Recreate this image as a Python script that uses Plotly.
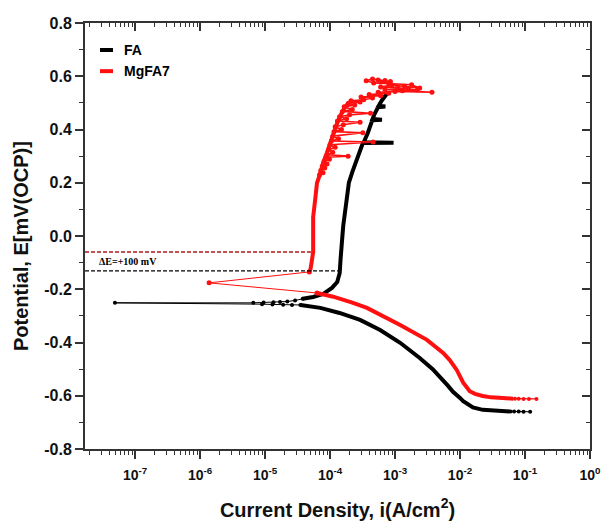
import plotly.graph_objects as go

# ---------------- data: potentiodynamic polarization curves ----------------
# FA sample: cathodic branch (high current -> corrosion potential)
fa_cat_tail_i = [0.120, 0.095, 0.080, 0.068, 0.060]
fa_cat_tail_e = [-0.660, -0.660, -0.659, -0.659, -0.659]
fa_cat_i = [0.058, 0.042, 0.030, 0.0224, 0.0158, 0.0129, 0.0112, 0.010, 0.0089, 0.0078,
            0.0065, 0.0055, 0.0049, 0.0038, 0.0024, 0.0012, 5.9e-4, 2.9e-4,
            1.4e-4, 7.1e-5, 3.5e-5]
fa_cat_e = [-0.659, -0.658, -0.656, -0.653, -0.644, -0.632, -0.620, -0.608, -0.597, -0.585,
            -0.562, -0.543, -0.525, -0.500, -0.458, -0.401, -0.353, -0.315,
            -0.289, -0.270, -0.259]
# FA sample: sparse points around the corrosion potential
fa_corr_i = [3.5e-5, 2.6e-5, 1.9e-5, 1.3e-5, 9.0e-6, 4.9e-8, 6.6e-6, 9.5e-6,
             1.35e-5, 1.7e-5, 2.2e-5, 2.9e-5, 3.8e-5]
fa_corr_e = [-0.259, -0.259, -0.258, -0.257, -0.256, -0.251, -0.251, -0.250,
             -0.249, -0.248, -0.246, -0.242, -0.236]
# FA sample: anodic branch
fa_an_i = [3.8e-5, 5.5e-5, 7.8e-5, 1.07e-4, 1.29e-4, 1.41e-4, 1.45e-4, 1.48e-4,
           1.55e-4, 1.60e-4, 1.68e-4, 1.75e-4, 1.85e-4, 1.95e-4, 2.2e-4, 2.5e-4,
           2.8e-4, 3.2e-4, 9.5e-4, 3.3e-4, 3.80e-4, 4.47e-4, 6.3e-4, 4.5e-4,
           4.9e-4, 5.5e-4, 7.1e-4, 5.6e-4, 6.3e-4, 7.8e-4]
fa_an_e = [-0.236, -0.229, -0.218, -0.195, -0.173, -0.139, -0.090, -0.040,
           0.000, 0.040, 0.080, 0.120, 0.160, 0.200, 0.240, 0.280,
           0.311, 0.349, 0.350, 0.352, 0.386, 0.435, 0.437, 0.439,
           0.461, 0.484, 0.486, 0.489, 0.510, 0.540]

# MgFA7 sample: cathodic branch
mg_cat_tail_i = [0.150, 0.115, 0.095, 0.080, 0.070]
mg_cat_tail_e = [-0.612, -0.612, -0.612, -0.611, -0.611]
mg_cat_i = [0.066, 0.042, 0.030, 0.0224, 0.0170, 0.0141, 0.0129, 0.0112, 0.0089,
            0.0069, 0.0055, 0.0031, 0.0012, 3.7e-4, 2.2e-4, 1.12e-4, 6.3e-5]
mg_cat_e = [-0.611, -0.609, -0.606, -0.601, -0.593, -0.583, -0.570, -0.551, -0.503,
            -0.465, -0.439, -0.390, -0.334, -0.270, -0.250, -0.228, -0.214]
# MgFA7 sample: transition through the corrosion potential
mg_corr_i = [6.3e-5, 1.38e-6, 4.8e-5]
mg_corr_e = [-0.214, -0.176, -0.135]
# MgFA7 sample: anodic branch
mg_an_i = [4.8e-5, 5.0e-5, 5.2e-5, 5.5e-5, 5.5e-5, 5.5e-5, 5.5e-5, 5.9e-5, 6.3e-5,
           7.1e-5, 7.8e-5, 8.9e-5, 1.0e-4, 1.12e-4, 1.29e-4, 1.51e-4, 1.70e-4, 2.0e-4]
mg_an_e = [-0.135, -0.125, -0.100, -0.060, -0.020, 0.011, 0.071, 0.135, 0.199,
           0.236, 0.274, 0.311, 0.349, 0.386, 0.424, 0.461, 0.484, 0.503]
# MgFA7 sample: noisy region of the anodic branch (pitting transients)
mg_noise_i = [6.9e-5, 7.8e-5, 7.2e-5, 8.3e-5, 7.6e-5, 9.0e-5, 8.1e-5, 9.8e-5, 8.7e-5,
              1.9e-4, 9.1e-5, 1.1e-4, 9.6e-5, 1.2e-4, 1.0e-4, 4.6e-4, 1.05e-4, 1.35e-4,
              1.1e-4, 3.2e-4, 1.15e-4, 1.5e-4, 1.2e-4, 1.6e-4, 2.9e-4, 1.3e-4, 1.8e-4,
              1.4e-4, 2.0e-4, 4.2e-4, 1.55e-4, 2.2e-4, 1.65e-4, 2.4e-4, 1.9e-4, 2.9e-4,
              2.1e-4, 3.3e-4, 4.5e-4, 3.0e-4, 6.0e-4, 4.0e-4, 8.0e-4, 5.5e-4, 1.0e-3,
              3.7e-3, 1.3e-3, 7.0e-4, 1.6e-3, 2.2e-3, 1.1e-3, 6.0e-4, 9.0e-4, 1.4e-3,
              2.4e-3, 1.8e-3, 8.0e-4, 4.7e-4, 3.6e-4, 4.5e-4, 5.5e-4, 7.0e-4, 8.5e-4, 6.0e-4]
mg_noise_e = [0.230, 0.238, 0.246, 0.255, 0.262, 0.270, 0.280, 0.288, 0.296,
              0.300, 0.305, 0.315, 0.325, 0.333, 0.343, 0.353, 0.357, 0.365,
              0.375, 0.388, 0.392, 0.400, 0.410, 0.418, 0.427, 0.432, 0.440,
              0.448, 0.455, 0.461, 0.468, 0.475, 0.485, 0.492, 0.498, 0.503,
              0.508, 0.512, 0.518, 0.522, 0.527, 0.531, 0.536, 0.540, 0.543,
              0.540, 0.546, 0.550, 0.553, 0.548, 0.557, 0.560, 0.566, 0.562,
              0.556, 0.568, 0.572, 0.575, 0.583, 0.590, 0.586, 0.584, 0.580, 0.578]

# Corrosion potential reference levels (dashed guides)
ecorr_fa = -0.131
ecorr_mg = -0.060
guide_i_start = 1.7e-8
guide_fa_i_end = 1.41e-4
guide_mg_i_end = 5.5e-5
delta_label = "ΔE=+100 mV"

# Axis ticks and titles
x_decades = [1e-7, 1e-6, 1e-5, 1e-4, 1e-3, 1e-2, 1e-1, 1e0]
x_labels = ["<b>10<sup>-7</sup></b>", "<b>10<sup>-6</sup></b>", "<b>10<sup>-5</sup></b>",
            "<b>10<sup>-4</sup></b>", "<b>10<sup>-3</sup></b>", "<b>10<sup>-2</sup></b>",
            "<b>10<sup>-1</sup></b>", "<b>10<sup>0</sup></b>"]
x_minor = [m * 10.0 ** p for p in range(-8, 0) for m in range(2, 10)]
y_vals = [-0.8, -0.6, -0.4, -0.2, 0.0, 0.2, 0.4, 0.6, 0.8]
y_labels = ["<b>-0.8</b>", "<b>-0.6</b>", "<b>-0.4</b>", "<b>-0.2</b>", "<b>0.0</b>",
            "<b>0.2</b>", "<b>0.4</b>", "<b>0.6</b>", "<b>0.8</b>"]
x_range_log = [-7.77, 0.0]
y_range = [-0.8, 0.8]
x_title = "Current Density, i(A/cm<sup>2</sup>)"
y_title = "Potential, E[mV(OCP)]"

BLACK = "#000000"
RED = "#ff1010"
DARKRED = "#b01818"
AXC = "#333333"
SANS = "Arial, Liberation Sans, sans-serif"

fig = go.Figure()


def branch(x, y, color, width, markers=False, msize=4):
    fig.add_trace(go.Scatter(
        x=x, y=y, mode="lines+markers" if markers else "lines",
        line=dict(color=color, width=width),
        marker=dict(color=color, size=msize),
        showlegend=False, hoverinfo="skip"))


# FA curve
branch(fa_cat_tail_i, fa_cat_tail_e, BLACK, 1.2, True, 4)
branch(fa_cat_i, fa_cat_e, BLACK, 4)
branch(fa_corr_i, fa_corr_e, BLACK, 1, True, 4)
branch(fa_an_i, fa_an_e, BLACK, 4)

# MgFA7 curve
branch(mg_cat_tail_i, mg_cat_tail_e, RED, 1.2, True, 4)
branch(mg_cat_i, mg_cat_e, RED, 4)
branch(mg_corr_i, mg_corr_e, RED, 1, True, 5)
branch(mg_an_i, mg_an_e, RED, 4)
branch(mg_noise_i, mg_noise_e, RED, 1.6, True, 5)

# Dashed guides at the corrosion potentials (drawn on the mirrored axes)
fig.add_trace(go.Scatter(x=[guide_i_start, guide_mg_i_end], y=[ecorr_mg, ecorr_mg],
                         mode="lines", line=dict(color=DARKRED, width=1.3, dash="4px,2px"),
                         xaxis="x2", yaxis="y2", showlegend=False, hoverinfo="skip"))
fig.add_trace(go.Scatter(x=[guide_i_start, guide_fa_i_end], y=[ecorr_fa, ecorr_fa],
                         mode="lines", line=dict(color=BLACK, width=1.3, dash="4px,2px"),
                         xaxis="x2", yaxis="y2", showlegend=False, hoverinfo="skip"))

fig.add_annotation(x=0.024, y=0.439, xref="paper", yref="paper", xanchor="left",
                   yanchor="middle", text="<b>" + delta_label + "</b>", showarrow=False,
                   font=dict(family="Liberation Serif, Times New Roman, serif", size=10,
                             color=BLACK))

# Legend drawn as short bars with labels
legend_items = [("FA", BLACK, 0.9366), ("MgFA7", RED, 0.887)]
for name, col, ly in legend_items:
    fig.add_shape(type="line", xref="paper", yref="paper", x0=0.0297, x1=0.0554,
                  y0=ly, y1=ly, line=dict(color=col, width=4))
    fig.add_annotation(x=0.0733, y=ly, xref="paper", yref="paper", xanchor="left",
                       yanchor="middle", text="<b>" + name + "</b>", showarrow=False,
                       font=dict(family=SANS, size=14, color=BLACK))

# Vertical axis title, placed as rotated text
fig.add_annotation(x=-0.127, y=0.476, xref="paper", yref="paper", xanchor="center",
                   yanchor="middle", textangle=-90, text="<b>" + y_title + "</b>",
                   showarrow=False, font=dict(family=SANS, size=20, color="#111"))

common_x = dict(type="log", range=x_range_log, showgrid=False, zeroline=False,
                automargin=False, showline=True, linecolor=AXC, linewidth=2,
                tickcolor=AXC, tickwidth=1.5)
common_y = dict(range=y_range, showgrid=False, zeroline=False, automargin=False,
                showline=True, linecolor=AXC, linewidth=2, tickcolor=AXC, tickwidth=1.5)

fig.update_layout(
    width=603, height=521,
    margin=dict(l=85, r=13, t=23, b=72, autoexpand=False),
    paper_bgcolor="white", plot_bgcolor="white",
    xaxis=dict(**common_x, ticks="outside", ticklen=8, tickmode="array",
               tickvals=x_decades, ticktext=x_labels, ticklabelstandoff=4,
               tickfont=dict(family=SANS, size=14, color="#111"),
               minor=dict(tickmode="array", tickvals=x_minor, ticks="outside",
                          ticklen=4, tickcolor=AXC, tickwidth=1.2),
               title=dict(text="<b>" + x_title + "</b>",
                          font=dict(family=SANS, size=20, color="#111"), standoff=21)),
    yaxis=dict(**common_y, ticks="outside", ticklen=8, tickmode="array",
               tickvals=y_vals, ticktext=y_labels,
               tickfont=dict(family=SANS, size=16, color="#111"),
               minor=dict(dtick=0.1, ticks="outside", ticklen=4, tickcolor=AXC,
                          tickwidth=1.2)),
    xaxis2=dict(**common_x, overlaying="x", side="top", anchor="y2", ticks="inside",
                ticklen=8, tickmode="array", tickvals=x_decades, showticklabels=False,
                minor=dict(tickmode="array", tickvals=x_minor, ticks="inside",
                           ticklen=4, tickcolor=AXC, tickwidth=1.2)),
    yaxis2=dict(**common_y, overlaying="y", side="right", anchor="x2", ticks="inside",
                ticklen=8, tickmode="array", tickvals=y_vals, showticklabels=False,
                minor=dict(dtick=0.1, ticks="inside", ticklen=4, tickcolor=AXC,
                           tickwidth=1.2)),
)

fig.write_html("out.html")
